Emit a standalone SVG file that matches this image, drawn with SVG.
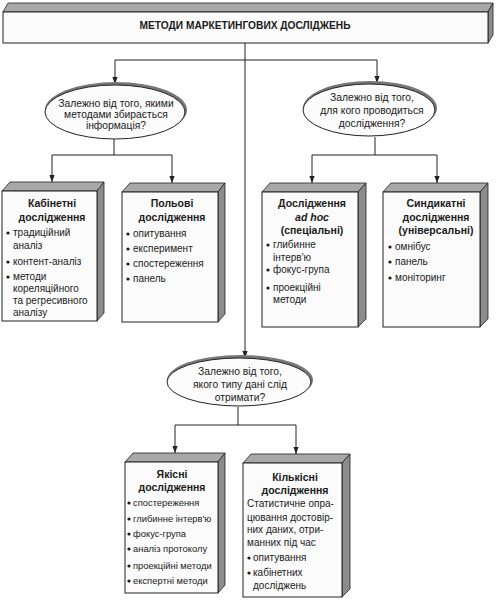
<svg xmlns="http://www.w3.org/2000/svg" width="500" height="600" viewBox="0 0 500 600">
<defs>
<style>
text{font-family:"Liberation Sans",Arial,sans-serif;fill:#1a1a1a;}
.t{font-size:10px;}
.s{font-size:9.4px;}
.e{font-size:10.3px;text-anchor:middle;}
.h{font-size:10.5px;font-weight:bold;text-anchor:middle;}
.ttl{font-size:10.2px;font-weight:bold;text-anchor:middle;}
.face{fill:#fbfbfb;stroke:#222;stroke-width:1;}
.side{fill:#8c8c8c;stroke:#222;stroke-width:0.8;}
.top{fill:#a8a8a8;stroke:#222;stroke-width:0.8;}
.ell{fill:#fbfbfb;stroke:#222;stroke-width:1;}
.esh{fill:#777;}
.c{fill:none;stroke:#222;stroke-width:1;}
.b{fill:#1a1a1a;}
</style>
<marker id="ar" viewBox="0 0 8 8" refX="8" refY="4" markerWidth="7" markerHeight="7" orient="auto" markerUnits="userSpaceOnUse">
<path d="M0,1 L8,4 L0,7 Z" fill="#222"/>
</marker>
</defs>
<rect width="500" height="600" fill="#ffffff"/>

<g id="connectors">
<path class="c" d="M245,43 V358" marker-end="url(#ar)"/>
<path class="c" d="M115,60 H377"/>
<path class="c" d="M115,60 V84" marker-end="url(#ar)"/>
<path class="c" d="M377,60 V83" marker-end="url(#ar)"/>
<path class="c" d="M114,139 V155 M52,155 H172"/>
<path class="c" d="M52,155 V182" marker-end="url(#ar)"/>
<path class="c" d="M172,155 V183" marker-end="url(#ar)"/>
<path class="c" d="M375,137 V155 M312,155 H437"/>
<path class="c" d="M312,155 V183" marker-end="url(#ar)"/>
<path class="c" d="M437,155 V183" marker-end="url(#ar)"/>
<path class="c" d="M238,407 V425 M175,425 H296"/>
<path class="c" d="M175,425 V453" marker-end="url(#ar)"/>
<path class="c" d="M296,425 V454" marker-end="url(#ar)"/>
</g>

<g id="title">
<polygon class="top" points="3,12 8,3 493,3 488,12"/>
<polygon class="side" points="488,12 493,3 493,35 488,43"/>
<rect class="face" x="3" y="12" width="485" height="31"/>
<text class="ttl" x="245" y="29">МЕТОДИ МАРКЕТИНГОВИХ ДОСЛІДЖЕНЬ</text>
</g>

<g id="q1">
<ellipse class="esh" cx="116" cy="110" rx="71" ry="28"/>
<ellipse class="ell" cx="115" cy="112" rx="70" ry="27"/>
<text class="e" x="116" y="107">Залежно від того, якими</text>
<text class="e" x="116" y="118">методами збирається</text>
<text class="e" x="116" y="129">інформація?</text>
</g>

<g id="q2">
<ellipse class="esh" cx="370" cy="108" rx="67" ry="27"/>
<ellipse class="ell" cx="369" cy="110" rx="66" ry="26"/>
<text class="e" x="372" y="101">Залежно від того,</text>
<text class="e" x="372" y="114">для кого проводиться</text>
<text class="e" x="372" y="127">дослідження?</text>
</g>

<g id="q3">
<ellipse class="esh" cx="240" cy="380" rx="73" ry="25"/>
<ellipse class="ell" cx="239" cy="382" rx="72" ry="24"/>
<text class="e" x="240" y="375">Залежно від того,</text>
<text class="e" x="240" y="388">якого типу дані слід</text>
<text class="e" x="240" y="401">отримати?</text>
</g>

<g id="box1">
<polygon class="top" points="2,191 10,182 104,182 97,191"/>
<polygon class="side" points="97,191 104,182 104,313 97,321"/>
<rect class="face" x="2" y="191" width="95" height="130"/>
<text class="h" x="52" y="207">Кабінетні</text>
<text class="h" x="52" y="221">дослідження</text>
<circle class="b" cx="8" cy="233" r="1.6"/>
<text class="t" x="13" y="236">традиційний</text>
<text class="t" x="13" y="249">аналіз</text>
<circle class="b" cx="8" cy="262" r="1.6"/>
<text class="t" x="13" y="265">контент-аналіз</text>
<circle class="b" cx="8" cy="277" r="1.6"/>
<text class="t" x="13" y="280">методи</text>
<text class="t" x="13" y="292">кореляційного</text>
<text class="t" x="13" y="304">та регресивного</text>
<text class="t" x="13" y="316">аналізу</text>
</g>

<g id="box2">
<polygon class="top" points="122,192 130,183 225,183 218,192"/>
<polygon class="side" points="218,192 225,183 225,314 218,322"/>
<rect class="face" x="122" y="192" width="96" height="130"/>
<text class="h" x="172" y="207">Польові</text>
<text class="h" x="172" y="221">дослідження</text>
<circle class="b" cx="128" cy="234" r="1.6"/>
<text class="t" x="133" y="237">опитування</text>
<circle class="b" cx="128" cy="249" r="1.6"/>
<text class="t" x="133" y="252">експеримент</text>
<circle class="b" cx="128" cy="264" r="1.6"/>
<text class="t" x="133" y="267">спостереження</text>
<circle class="b" cx="128" cy="279" r="1.6"/>
<text class="t" x="133" y="282">панель</text>
</g>

<g id="box3">
<polygon class="top" points="262,192 270,183 366,183 358,192"/>
<polygon class="side" points="358,192 366,183 366,319 358,327"/>
<rect class="face" x="262" y="192" width="96" height="135"/>
<text class="h" x="312" y="207">Дослідження</text>
<text class="h" x="312" y="221" font-style="italic">ad hoc</text>
<text class="h" x="312" y="234">(спеціальні)</text>
<circle class="b" cx="268" cy="245" r="1.6"/>
<text class="t" x="273" y="248">глибинне</text>
<text class="t" x="273" y="261">інтерв'ю</text>
<circle class="b" cx="268" cy="270" r="1.6"/>
<text class="t" x="273" y="273">фокус-група</text>
<circle class="b" cx="268" cy="288" r="1.6"/>
<text class="t" x="273" y="291">проекційні</text>
<text class="t" x="273" y="303">методи</text>
</g>

<g id="box4">
<polygon class="top" points="383,192 391,183 488,183 480,192"/>
<polygon class="side" points="480,192 488,183 488,319 480,327"/>
<rect class="face" x="383" y="192" width="97" height="135"/>
<text class="h" x="436" y="207">Синдикатні</text>
<text class="h" x="436" y="221">дослідження</text>
<text class="h" x="436" y="234">(універсальні)</text>
<circle class="b" cx="390" cy="247" r="1.6"/>
<text class="t" x="395" y="250">омнібус</text>
<circle class="b" cx="390" cy="262" r="1.6"/>
<text class="t" x="395" y="265">панель</text>
<circle class="b" cx="390" cy="278" r="1.6"/>
<text class="t" x="395" y="281">моніторинг</text>
</g>

<g id="box5">
<polygon class="top" points="125,462 133,453 225,453 218,462"/>
<polygon class="side" points="218,462 225,453 225,585 218,593"/>
<rect class="face" x="125" y="462" width="93" height="131"/>
<text class="h" x="172" y="478">Якісні</text>
<text class="h" x="172" y="491">дослідження</text>
<circle class="b" cx="129" cy="503" r="1.6"/>
<text class="s" x="133" y="506">спостереження</text>
<circle class="b" cx="129" cy="519" r="1.6"/>
<text class="s" x="133" y="522">глибинне інтерв'ю</text>
<circle class="b" cx="129" cy="534" r="1.6"/>
<text class="s" x="133" y="537">фокус-група</text>
<circle class="b" cx="129" cy="549" r="1.6"/>
<text class="s" x="133" y="552">аналіз протоколу</text>
<circle class="b" cx="129" cy="566" r="1.6"/>
<text class="s" x="133" y="569">проекційні методи</text>
<circle class="b" cx="129" cy="581" r="1.6"/>
<text class="s" x="133" y="584">експертні методи</text>
</g>

<g id="box6">
<polygon class="top" points="243,463 251,454 350,454 342,463"/>
<polygon class="side" points="342,463 350,454 350,589 342,597"/>
<rect class="face" x="243" y="463" width="99" height="134"/>
<text class="h" x="295" y="481">Кількісні</text>
<text class="h" x="295" y="494">дослідження</text>
<text class="t" x="247" y="507">Статистичне опра-</text>
<text class="t" x="247" y="521">цювання достовір-</text>
<text class="t" x="247" y="533">них даних, отри-</text>
<text class="t" x="247" y="546">манних під час</text>
<circle class="b" cx="249" cy="558" r="1.6"/>
<text class="t" x="253" y="561">опитування</text>
<circle class="b" cx="249" cy="573" r="1.6"/>
<text class="t" x="253" y="576">кабінетних</text>
<text class="t" x="253" y="589">досліджень</text>
</g>
</svg>
